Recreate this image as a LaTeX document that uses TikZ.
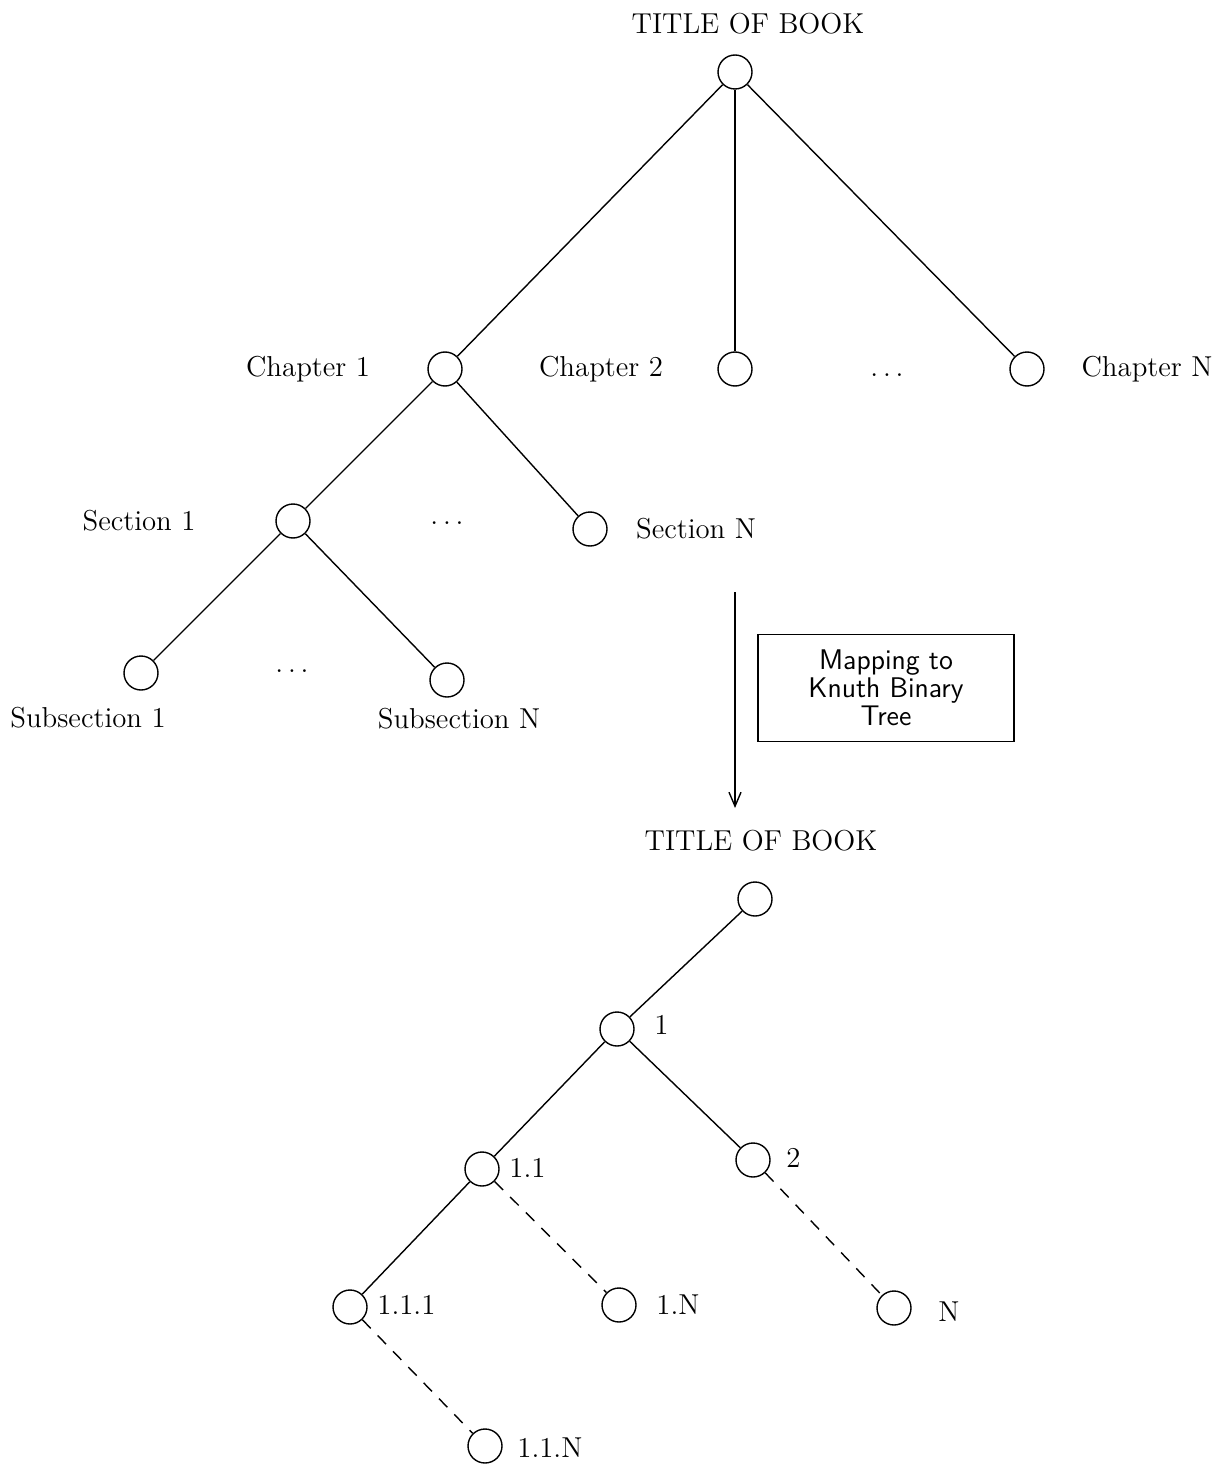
\documentclass[tikz,border=0pt]{standalone}
\usetikzlibrary{arrows.meta}
\begin{document}
\begin{tikzpicture}[x=0.5pt,y=-0.5pt,
  vtx/.style={circle,draw,line width=0.7pt,minimum size=17pt,inner sep=0pt},
  lbl/.style={font=\fontsize{14.4}{17}\selectfont,inner sep=0pt},
  edge/.style={line width=0.7pt},
  dedge/.style={line width=0.7pt,dash pattern=on 6pt off 5pt}]
\useasboundingbox (0,0) rectangle (1228,1465);

% general tree of the book
\node[lbl] (t1) at (748,24) {TITLE OF BOOK};
\node[vtx] (r) at (735,72) {};
\node[vtx] (c1) at (445,369) {};
\node[vtx] (c2) at (735,369) {};
\node[vtx] (cN) at (1027,369) {};
\node[lbl] (lc1) at (308,369) {Chapter 1};
\node[lbl] (lc2) at (601,369) {Chapter 2};
\node[lbl] (dc) at (887,375) {.\,.\,.};
\node[lbl] (lcN) at (1147,369) {Chapter N};

\node[vtx] (s1) at (293,521) {};
\node[vtx] (sN) at (590,529) {};
\node[lbl] (ls1) at (139,521) {Section 1};
\node[lbl] (ds) at (447,523) {.\,.\,.};
\node[lbl] (lsN) at (696,529) {Section N};

\node[vtx] (u1) at (141,673) {};
\node[vtx] (uN) at (447,680) {};
\node[lbl] (du) at (292,671) {.\,.\,.};
\node[lbl] (lu1) at (88,718) {Subsection 1};
\node[lbl] (luN) at (459,719) {Subsection N};

\draw[edge] (r) -- (c1);
\draw[line width=1.3pt] (r) -- (c2);
\draw[edge] (r) -- (cN);
\draw[edge] (c1) -- (s1);
\draw[edge] (c1) -- (sN);
\draw[edge] (s1) -- (u1);
\draw[edge] (s1) -- (uN);

% mapping arrow and its caption
\coordinate (a0) at (735,592);
\coordinate (a1) at (735,808);
\draw[edge,-{Straight Barb[length=7pt,width=6pt]}] (a0) -- (a1);
\node[draw,line width=0.7pt,minimum width=128pt,minimum height=53.5pt,
      align=center,font=\sffamily\fontsize{14.2}{14}\selectfont] (box) at (886,688)
  {Mapping to\\Knuth Binary\\Tree};

% binary tree
\node[lbl] (t2) at (761,841) {TITLE OF BOOK};
\node[vtx] (b0) at (755,899) {};
\node[vtx] (b1) at (617,1029) {};
\node[vtx] (b11) at (482,1169) {};
\node[vtx] (b2) at (753,1160) {};
\node[vtx] (b111) at (350,1307) {};
\node[vtx] (b1N) at (619,1305) {};
\node[vtx] (bN) at (894,1308) {};
\node[vtx] (b11N) at (485,1446) {};

\node[lbl,anchor=west] (l1) at (654,1025) {1};
\node[lbl,anchor=west] (l11) at (509,1168) {1.1};
\node[lbl,anchor=west] (l2) at (786,1158) {2};
\node[lbl,anchor=west] (l111) at (377,1305) {1.1.1};
\node[lbl,anchor=west] (l1N) at (656,1305) {1.N};
\node[lbl,anchor=west] (lN) at (938,1312) {N};
\node[lbl,anchor=west] (l11N) at (517,1448) {1.1.N};

\draw[edge] (b0) -- (b1);
\draw[edge] (b1) -- (b11);
\draw[edge] (b1) -- (b2);
\draw[edge] (b11) -- (b111);
\draw[dedge] (b11) -- (b1N);
\draw[dedge] (b2) -- (bN);
\draw[dedge] (b111) -- (b11N);
\end{tikzpicture}
\end{document}
